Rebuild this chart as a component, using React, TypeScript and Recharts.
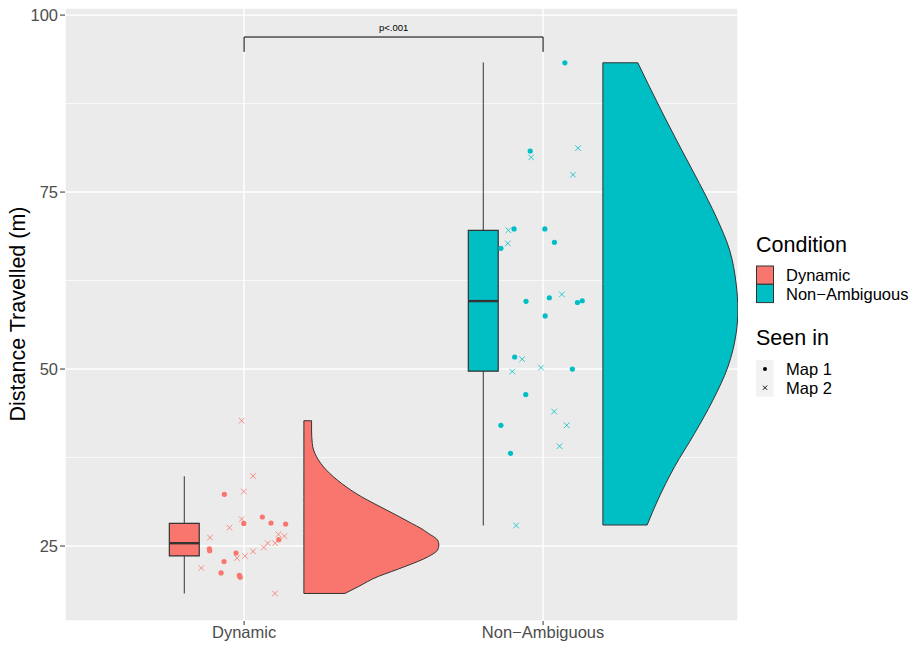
import React from "react";
import {
  ComposedChart,
  Scatter,
  XAxis,
  YAxis,
  CartesianGrid,
  ReferenceLine,
  ReferenceArea,
  Curve,
} from "recharts";

const FONT = "'Liberation Sans', Arial, Helvetica, sans-serif";

const CONDITIONS = ["Dynamic", "Non\u2212Ambiguous"];
const COLORS = ["#F8766D", "#00BFC4"];
const Y_TICKS = [25, 50, 75, 100];
const Y_MINOR = [37.5, 62.5, 87.5];

// jittered raw points: offset from category centre, distance (m)
const dynMap1Off = [-0.066, 0.061, -0.001, 0.09, 0.139, 0.116, -0.116, -0.115, -0.027, -0.067, -0.077, -0.016, -0.013];
const dynMap1Val = [32.3, 29.1, 28.2, 28.25, 28.1, 25.9, 24.6, 24.35, 24.0, 22.8, 21.2, 20.85, 20.6];
const dynMap2Off = [-0.008, 0.03, -0.001, -0.008, -0.049, -0.114, 0.115, 0.135, 0.104, 0.079, 0.066, 0.03, 0.003, -0.024, -0.143, 0.103];
const dynMap2Val = [42.7, 34.9, 32.7, 28.8, 27.6, 26.2, 26.65, 26.4, 25.4, 25.4, 24.8, 24.25, 23.6, 23.3, 21.9, 18.3];

const naMap1Off = [0.073, -0.043, -0.097, 0.006, 0.038, -0.141, -0.057, 0.021, 0.115, 0.131, 0.007, -0.095, 0.098, -0.058, -0.141, -0.109];
const naMap1Val = [93.26, 80.8, 69.8, 69.8, 67.9, 67.05, 59.56, 60.07, 59.4, 59.65, 57.5, 51.7, 50.0, 46.4, 42.05, 38.1];
const naMap2Off = [-0.04, 0.117, 0.1, -0.116, -0.118, 0.063, -0.07, -0.103, -0.007, 0.037, 0.079, 0.055, -0.09];
const naMap2Val = [79.9, 81.2, 77.45, 69.6, 67.75, 60.55, 51.4, 49.65, 50.2, 44.0, 42.05, 39.1, 27.9];

// boxplot stats: lower whisker, q1, median, q3, upper whisker
const dynBox = [18.3, 23.6, 25.4, 28.2, 34.85];
const naBox = [27.9, 49.7, 59.6, 69.6, 93.3];

// half violin: values and relative density
const dynViolinVal = [18.3, 19.25, 20.7, 21.4, 22.1, 23.5, 24.43, 25.14, 25.85, 26.8, 27.5, 28.2, 29.1, 30.08, 31.0, 31.96, 33.85, 35.7, 37.6, 38.56, 39.5, 41.4, 42.7];
const dynViolinDen = [0.304, 0.402, 0.55, 0.65, 0.748, 0.921, 0.99, 1.0, 0.99, 0.921, 0.867, 0.798, 0.711, 0.613, 0.52, 0.427, 0.279, 0.168, 0.094, 0.072, 0.062, 0.057, 0.057];
const naViolinVal = [27.97, 31.5, 36.2, 40.9, 45.6, 50.3, 55.0, 58.33, 62.1, 66.8, 71.5, 76.2, 80.9, 85.6, 90.35, 93.26];
const naViolinDen = [0.328, 0.407, 0.531, 0.679, 0.815, 0.926, 0.987, 1.0, 0.987, 0.939, 0.839, 0.716, 0.585, 0.457, 0.333, 0.259];

const BOX_POS = -0.2;
const BOX_HALF = 0.05;
const VIOLIN_POS = 0.2;
const VIOLIN_WIDTH = 0.4515;

const toPoints = (centre: number, offs: number[], vals: number[]) =>
  vals.map((v, i) => ({ x: centre + offs[i], y: v }));

// first point sits on the violin's flat side, the rest trace the density edge
const violinPoints = (centre: number, vals: number[], dens: number[]) => {
  const base = centre + VIOLIN_POS;
  const edge = vals.map((v, i) => ({ x: base + dens[i] * VIOLIN_WIDTH, y: v }));
  return [{ x: base, y: vals[0] }, ...edge];
};

const violinLine = (fill: string) => (props: any) => {
  const pts = (props.points || []) as { x: number; y: number }[];
  if (pts.length < 2) return <g />;
  const baseX = pts[0].x;
  const edge = pts.slice(1).reverse();
  return (
    <Curve
      points={edge}
      baseLine={baseX}
      layout="vertical"
      type="monotone"
      fill={fill}
      fillOpacity={1}
      stroke="#333333"
      strokeWidth={1}
    />
  );
};

const noShape = () => <g />;

const dotShape = (color: string) => (p: any) => (
  <circle cx={p.cx} cy={p.cy} r={2.6} fill={color} />
);

const crossShape = (color: string) => (p: any) => {
  const s = 2.8;
  return (
    <path
      d={`M${p.cx - s},${p.cy - s}L${p.cx + s},${p.cy + s}M${p.cx - s},${p.cy + s}L${p.cx + s},${p.cy - s}`}
      stroke={color}
      strokeWidth={1}
      strokeOpacity={0.8}
      fill="none"
    />
  );
};

export default function App() {
  const boxes = [
    { centre: 1, stats: dynBox, color: COLORS[0] },
    { centre: 2, stats: naBox, color: COLORS[1] },
  ];
  return (
    <div style={{ position: "fixed", left: 0, top: 0, width: 916, height: 646, background: "#fff" }}>
      <ComposedChart
        width={916}
        height={646}
        margin={{ top: 8, right: 178, bottom: 0, left: 0 }}
      >
        <CartesianGrid fill="#EBEBEB" fillOpacity={1} stroke="#FFFFFF" strokeWidth={1.4} />
        <CartesianGrid
          horizontalValues={Y_MINOR}
          vertical={false}
          stroke="#FFFFFF"
          strokeWidth={0.7}
        />
        <XAxis
          type="number"
          dataKey="x"
          domain={[0.401, 2.652]}
          allowDataOverflow
          ticks={[1, 2]}
          tickFormatter={(v: number) => CONDITIONS[v - 1]}
          axisLine={false}
          tickLine={{ stroke: "#333333" }}
          tickSize={4}
          tickMargin={1}
          height={25}
          tick={{ fontSize: 16.5, fill: "#4D4D4D", fontFamily: FONT }}
        />
        <YAxis
          type="number"
          dataKey="y"
          domain={[14.41, 101.0]}
          allowDataOverflow
          ticks={Y_TICKS}
          axisLine={false}
          tickLine={{ stroke: "#333333" }}
          tickSize={5}
          tickMargin={2}
          width={65}
          tick={{ fontSize: 16.5, fill: "#4D4D4D", fontFamily: FONT }}
        />

        <Scatter
          data={violinPoints(1, dynViolinVal, dynViolinDen)}
          line={violinLine(COLORS[0])}
          shape={noShape}
          legendType="none"
          isAnimationActive={false}
        />
        <Scatter
          data={violinPoints(2, naViolinVal, naViolinDen)}
          line={violinLine(COLORS[1])}
          shape={noShape}
          legendType="none"
          isAnimationActive={false}
        />

        {boxes.map((b) => (
          <ReferenceArea
            key={`box-${b.centre}`}
            x1={b.centre + BOX_POS - BOX_HALF}
            x2={b.centre + BOX_POS + BOX_HALF}
            y1={b.stats[1]}
            y2={b.stats[3]}
            fill={b.color}
            fillOpacity={1}
            stroke="#333333"
            strokeWidth={1.2}
          />
        ))}
        {boxes.map((b) => (
          <ReferenceLine
            key={`lo-${b.centre}`}
            segment={[
              { x: b.centre + BOX_POS, y: b.stats[0] },
              { x: b.centre + BOX_POS, y: b.stats[1] },
            ]}
            stroke="#333333"
            strokeWidth={1}
          />
        ))}
        {boxes.map((b) => (
          <ReferenceLine
            key={`hi-${b.centre}`}
            segment={[
              { x: b.centre + BOX_POS, y: b.stats[3] },
              { x: b.centre + BOX_POS, y: b.stats[4] },
            ]}
            stroke="#333333"
            strokeWidth={1}
          />
        ))}
        {boxes.map((b) => (
          <ReferenceLine
            key={`med-${b.centre}`}
            segment={[
              { x: b.centre + BOX_POS - BOX_HALF, y: b.stats[2] },
              { x: b.centre + BOX_POS + BOX_HALF, y: b.stats[2] },
            ]}
            stroke="#333333"
            strokeWidth={2.4}
          />
        ))}

        <Scatter data={toPoints(1, dynMap1Off, dynMap1Val)} shape={dotShape(COLORS[0])} isAnimationActive={false} />
        <Scatter data={toPoints(1, dynMap2Off, dynMap2Val)} shape={crossShape(COLORS[0])} isAnimationActive={false} />
        <Scatter data={toPoints(2, naMap1Off, naMap1Val)} shape={dotShape(COLORS[1])} isAnimationActive={false} />
        <Scatter data={toPoints(2, naMap2Off, naMap2Val)} shape={crossShape(COLORS[1])} isAnimationActive={false} />

        {/* significance bracket */}
        <ReferenceLine segment={[{ x: 1, y: 94.8 }, { x: 1, y: 96.9 }]} stroke="#000" strokeWidth={1} />
        <ReferenceLine
          segment={[{ x: 1, y: 96.9 }, { x: 2, y: 96.9 }]}
          stroke="#000"
          strokeWidth={1}
          label={{ value: "p<.001", position: "top", offset: 6, fontSize: 9.5, fill: "#000", fontFamily: FONT }}
        />
        <ReferenceLine segment={[{ x: 2, y: 94.8 }, { x: 2, y: 96.9 }]} stroke="#000" strokeWidth={1} />
      </ComposedChart>

      <svg
        width={916}
        height={646}
        style={{ position: "absolute", left: 0, top: 0, pointerEvents: "none" }}
        fontFamily={FONT}
      >
        <text
          x={18}
          y={314}
          transform="rotate(-90 18 314)"
          textAnchor="middle"
          dominantBaseline="central"
          fontSize={21.5}
          fill="#000"
        >
          Distance Travelled (m)
        </text>

        <text x={756} y={245} dominantBaseline="central" fontSize={21.5} fill="#000">
          Condition
        </text>
        {CONDITIONS.map((c, i) => (
          <g key={c}>
            <rect x={756.5} y={266 + i * 18.3} width={17} height={18.3} fill={COLORS[i]} stroke="#333333" strokeWidth={1} />
            <text x={786} y={275.3 + i * 18.6} dominantBaseline="central" fontSize={16.5} fill="#000">
              {c}
            </text>
          </g>
        ))}

        <text x={756} y={338} dominantBaseline="central" fontSize={21.5} fill="#000">
          Seen in
        </text>
        <rect x={756} y={360} width={17.5} height={36.6} fill="#F2F2F2" />
        <circle cx={765} cy={369} r={2} fill="#000" />
        <path d="M762.8,385.5L767.2,389.9M762.8,389.9L767.2,385.5" stroke="#000" strokeWidth={0.9} />
        <text x={786} y={369} dominantBaseline="central" fontSize={16.5} fill="#000">
          Map 1
        </text>
        <text x={786} y={387.7} dominantBaseline="central" fontSize={16.5} fill="#000">
          Map 2
        </text>
      </svg>
    </div>
  );
}
